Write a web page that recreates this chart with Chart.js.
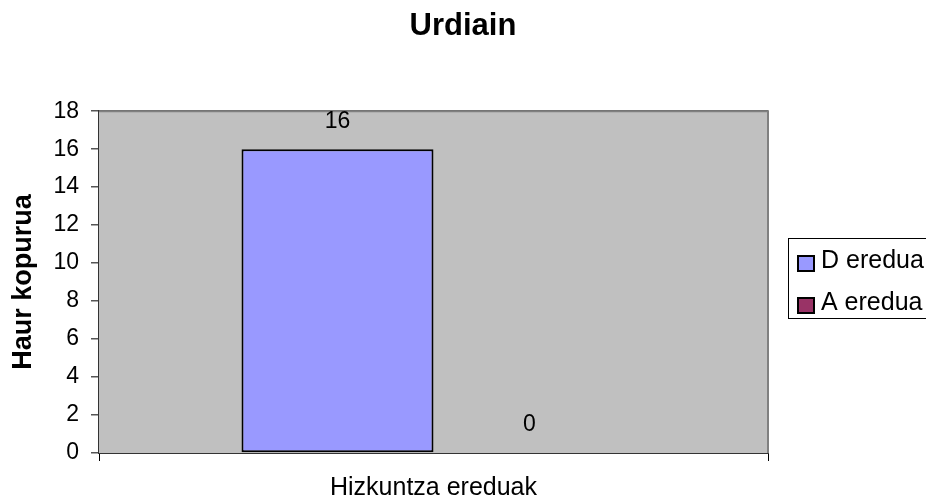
<!DOCTYPE html>
<html>
<head>
<meta charset="utf-8">
<script src="https://cdn.jsdelivr.net/npm/chart.js@4"></script>
<style>
  html, body { margin: 0; padding: 0; background: #fff; }
  #wrap { width: 926px; height: 501px; }
</style>
</head>
<body>
<div id="wrap"><canvas id="chart" width="926" height="501"></canvas></div>
<script>
/* ---------- data ---------- */
const categories = [""];
const seriesNames = ["D eredua", "A eredua"];
const seriesValues = [[16], [0]];
const seriesColors = ["#9999FF", "#993366"];
const yTicks = [0, 2, 4, 6, 8, 10, 12, 14, 16, 18];

const FONT = "'Liberation Sans', Arial, sans-serif";

/* ---------- plot background + border ---------- */
const plotArea = {
  id: "plotArea",
  beforeDatasetsDraw(chart) {
    const { ctx, chartArea: a } = chart;
    ctx.save();
    ctx.fillStyle = "#C0C0C0";
    ctx.fillRect(a.left, a.top, a.right - a.left, a.bottom - a.top);
    ctx.restore();
  },
  afterDatasetsDraw(chart) {
    const { ctx, chartArea: a } = chart;
    ctx.save();
    ctx.strokeStyle = "#808080";
    ctx.lineWidth = 2;
    ctx.beginPath();
    ctx.moveTo(a.left, a.top);
    ctx.lineTo(a.right, a.top);
    ctx.lineTo(a.right, a.bottom);
    ctx.stroke();
    ctx.restore();
  },
};

/* ---------- value labels above bars ---------- */
const valueLabels = {
  id: "valueLabels",
  afterDatasetsDraw(chart) {
    const { ctx } = chart;
    ctx.save();
    ctx.font = "23px " + FONT;
    ctx.fillStyle = "#000";
    ctx.textAlign = "center";
    ctx.textBaseline = "middle";
    chart.data.datasets.forEach((ds, i) => {
      chart.getDatasetMeta(i).data.forEach((bar, j) => {
        ctx.fillText(ds.data[j], bar.x, bar.y - 28);
      });
    });
    ctx.restore();
  },
};

/* ---------- boxed legend on the right ---------- */
const boxLegend = {
  id: "boxLegend",
  afterDraw(chart) {
    const { ctx } = chart;
    const x = 788, y = 238, w = 160, h = 80;
    ctx.save();
    ctx.fillStyle = "#fff";
    ctx.fillRect(x, y, w, h);
    ctx.strokeStyle = "#000";
    ctx.lineWidth = 1;
    ctx.strokeRect(x + 0.5, y + 0.5, w, h);
    ctx.font = "25px " + FONT;
    ctx.textBaseline = "middle";
    chart.data.datasets.forEach((ds, i) => {
      const cy = y + 24 + i * 42;
      ctx.fillStyle = ds.backgroundColor;
      ctx.fillRect(x + 10, cy - 6, 16, 15);
      ctx.lineWidth = 2;
      ctx.strokeRect(x + 10, cy - 6, 16, 15);
      ctx.fillStyle = "#000";
      ctx.fillText(ds.label, x + 33, cy - 1);
    });
    ctx.restore();
  },
};

new Chart(document.getElementById("chart"), {
  type: "bar",
  data: {
    labels: categories,
    datasets: seriesNames.map((name, i) => ({
      label: name,
      data: seriesValues[i],
      backgroundColor: seriesColors[i],
      borderColor: "#000",
      borderWidth: 2,
      borderSkipped: false,
    })),
  },
  plugins: [plotArea, valueLabels, boxLegend],
  options: {
    responsive: false,
    animation: false,
    devicePixelRatio: 1,
    layout: { padding: 0 },
    plugins: {
      legend: { display: false },
      tooltip: { enabled: false },
      title: {
        display: true,
        text: "Urdiain",
        color: "#000",
        font: { family: FONT, size: 31, weight: "bold" },
        padding: { top: 8, bottom: 66 },
      },
    },
    datasets: {
      bar: { categoryPercentage: 0.574, barPercentage: 1 },
    },
    scales: {
      x: {
        afterFit(s) { s.height = 48; },
        grid: {
          offset: true,
          drawOnChartArea: false,
          color: "#000",
          tickLength: 8,
        },
        border: { color: "#333", width: 2 },
        ticks: { display: false },
        title: {
          display: true,
          text: "Hizkuntza ereduak",
          color: "#000",
          font: { family: FONT, size: 25, lineHeight: 1 },
          padding: { top: 0, bottom: 0 },
        },
      },
      y: {
        min: 0,
        max: 18,
        afterFit(s) { s.width = 99; },
        afterBuildTicks(s) { s.ticks = yTicks.map(v => ({ value: v })); },
        grid: {
          color: "#555",
          lineWidth: 1.5,
          tickLength: 8,
        },
        border: { color: "#333", width: 2 },
        ticks: {
          color: "#000",
          padding: 12,
          font: { family: FONT, size: 23 },
        },
        title: {
          display: true,
          text: "Haur kopurua",
          color: "#000",
          font: { family: FONT, size: 27, weight: "bold" },
          padding: { top: 7, bottom: 0 },
        },
      },
      // empty right-hand box that reserves room for the legend
      legendSpace: {
        type: "linear",
        position: "right",
        afterFit(s) { s.width = 158; },
        grid: { display: false },
        border: { display: false },
        ticks: { display: false },
      },
    },
  },
});
</script>
</body>
</html>
